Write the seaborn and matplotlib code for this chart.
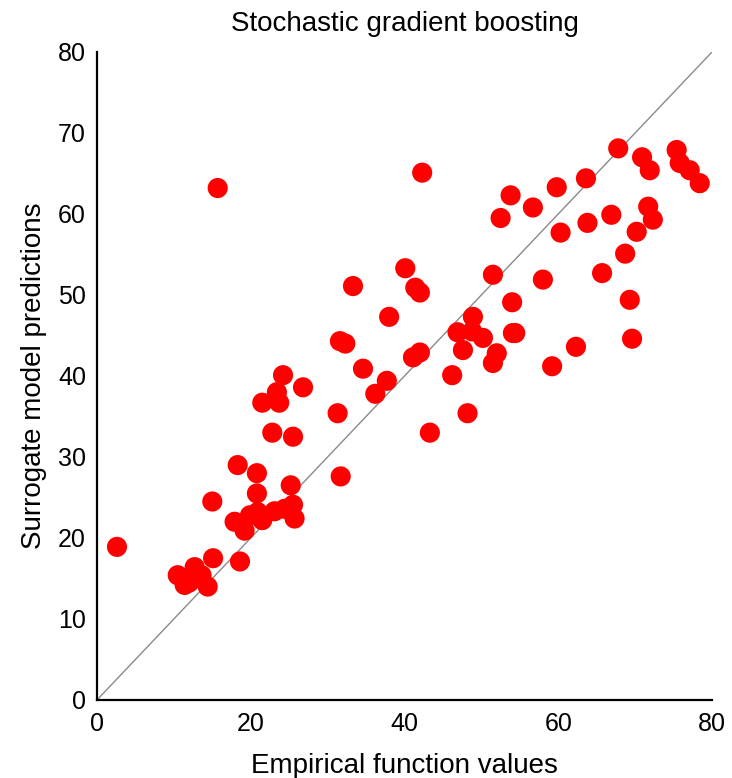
import matplotlib
matplotlib.use("Agg")
import matplotlib.pyplot as plt
import seaborn as sns
import pandas as pd

# Empirical function values (x) vs surrogate model predictions (y)
empirical = [
    2.6, 15.7, 42.3, 15.0, 15.1, 18.6,
    10.5, 11.4, 12.7, 13.6, 14.4, 12.0,
    18.3, 20.8, 20.8, 25.2,
    17.9, 19.9, 19.2, 21.5, 23.1, 20.9, 24.4, 25.7, 25.5,
    22.8, 25.5, 21.5, 23.7, 23.4, 24.2, 26.8,
    31.3, 31.7, 31.6, 32.3, 34.6, 37.7, 36.2, 41.1, 42.0, 43.3,
    33.3, 38.0, 40.1, 41.4, 42.0,
    46.9, 47.6, 48.8, 50.2, 48.9, 54.4, 52.0, 51.5, 46.2, 48.2,
    54.0, 51.5, 58.0, 62.3, 59.2, 54.1,
    52.5, 53.8, 56.7, 59.8, 60.3, 63.6, 63.8,
    65.7, 66.9, 68.7, 69.3, 69.6, 70.2, 71.7, 72.3,
    67.8, 70.9, 71.9, 75.4, 75.8, 77.1, 78.4,
]
predicted = [
    18.9, 63.2, 65.1, 24.5, 17.5, 17.1,
    15.4, 14.2, 16.4, 15.4, 14.0, 14.5,
    29.0, 28.0, 25.5, 26.5,
    22.0, 22.8, 20.9, 22.2, 23.3, 23.2, 23.6, 22.4, 24.1,
    33.0, 32.5, 36.7, 36.7, 38.0, 40.1, 38.6,
    35.4, 27.6, 44.3, 44.0, 40.9, 39.4, 37.8, 42.3, 42.9, 33.0,
    51.1, 47.3, 53.3, 50.9, 50.3,
    45.4, 43.2, 45.5, 44.7, 47.3, 45.3, 42.8, 41.6, 40.1, 35.4,
    49.1, 52.5, 51.9, 43.6, 41.2, 45.3,
    59.5, 62.3, 60.8, 63.3, 57.7, 64.4, 58.9,
    52.7, 59.9, 55.1, 49.4, 44.6, 57.8, 60.9, 59.3,
    68.1, 67.0, 65.4, 67.9, 66.3, 65.4, 63.8,
]
x_ticks = [0, 20, 40, 60, 80]
y_ticks = [0, 10, 20, 30, 40, 50, 60, 70, 80]

df = pd.DataFrame({"empirical": empirical, "predicted": predicted})

sns.set_theme(style="white")
plt.rcParams["font.family"] = ["Liberation Sans", "DejaVu Sans"]
plt.rcParams["text.color"] = "black"
plt.rcParams["axes.labelcolor"] = "black"

fig = plt.figure(figsize=(7.32, 7.78), dpi=100)
ax = fig.add_axes([0.1325, 0.1003, 0.8402, 0.8329])

# identity reference line
ax.plot([0, 80], [0, 80], color="#8a8a8a", lw=1.0, zorder=1)

sns.scatterplot(data=df, x="empirical", y="predicted", ax=ax,
                color="#ff0000", s=210, marker="o", edgecolor="none",
                linewidth=0, zorder=2)

ax.set_xlim(0, 80)
ax.set_ylim(0, 80)
ax.set_xticks(x_ticks)
ax.set_yticks(y_ticks)
ax.tick_params(direction="in", length=6, width=1.3, labelsize=18,
               colors="black")
ax.tick_params(axis="x", pad=9)
ax.tick_params(axis="y", pad=8)
for side in ("top", "right"):
    ax.spines[side].set_visible(False)
for side in ("left", "bottom"):
    ax.spines[side].set_color("black")
    ax.spines[side].set_linewidth(1.6)

ax.set_title("Stochastic gradient boosting", fontsize=20, pad=15)
ax.set_xlabel("Empirical function values", fontsize=20, labelpad=12)
ax.set_ylabel("Surrogate model predictions", fontsize=20, labelpad=8)

fig.savefig("out.png", dpi=100, facecolor="white")
